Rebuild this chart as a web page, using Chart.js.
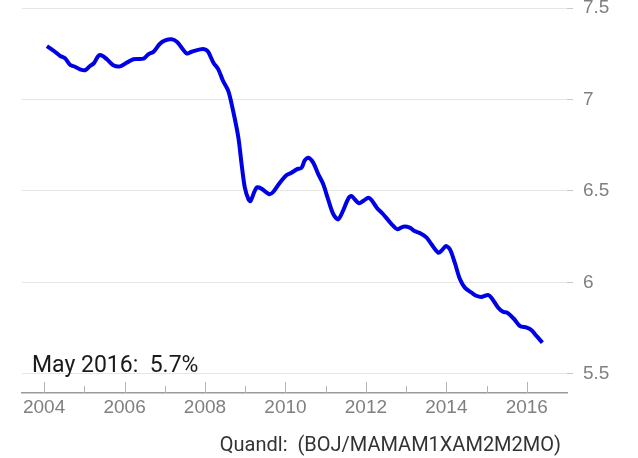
<!DOCTYPE html>
<html>
<head>
<meta charset="utf-8">
<title>May 2016: 5.7%</title>
<script src="https://cdn.jsdelivr.net/npm/chart.js@4/dist/chart.umd.min.js"></script>
<style>
    html, body { margin: 0; padding: 0; background: #ffffff; }
    #wrap { width: 638px; height: 458px; }
</style>
</head>
<body>
<div id="wrap"><canvas id="chartSerie" width="638" height="458"></canvas></div>
<script>
// Datos (anio decimal, valor en %)
const anios = [
    2004.07, 2004.27, 2004.40, 2004.52, 2004.65, 2004.77, 2004.89, 2005.02, 2005.14, 2005.24,
    2005.35, 2005.43, 2005.56, 2005.72, 2005.89, 2006.05, 2006.22, 2006.47, 2006.59, 2006.72,
    2006.88, 2007.01, 2007.17, 2007.30, 2007.42, 2007.55, 2007.67, 2007.88, 2008.00, 2008.08,
    2008.21, 2008.33, 2008.45, 2008.58, 2008.70, 2008.83, 2008.91, 2008.99, 2009.08, 2009.13,
    2009.28, 2009.40, 2009.60, 2009.70, 2009.86, 2010.03, 2010.15, 2010.28, 2010.40, 2010.48,
    2010.57, 2010.69, 2010.81, 2010.94, 2011.06, 2011.19, 2011.31, 2011.43, 2011.56, 2011.64,
    2011.72, 2011.83, 2011.93, 2012.06, 2012.14, 2012.27, 2012.43, 2012.55, 2012.68, 2012.78,
    2012.93, 2013.09, 2013.21, 2013.34, 2013.51, 2013.63, 2013.80, 2013.89, 2013.99, 2014.09,
    2014.21, 2014.34, 2014.46, 2014.63, 2014.76, 2014.88, 2015.04, 2015.12, 2015.29, 2015.41,
    2015.51, 2015.69, 2015.83, 2016.00, 2016.12, 2016.24, 2016.39,
];
const valores = [
    7.292, 7.261, 7.238, 7.225, 7.189, 7.179, 7.165, 7.160, 7.183, 7.199,
    7.238, 7.241, 7.220, 7.187, 7.181, 7.201, 7.220, 7.223, 7.247, 7.261,
    7.305, 7.323, 7.329, 7.316, 7.283, 7.251, 7.261, 7.274, 7.274, 7.260,
    7.201, 7.165, 7.101, 7.046, 6.937, 6.791, 6.646, 6.518, 6.455, 6.445,
    6.518, 6.513, 6.482, 6.496, 6.545, 6.587, 6.600, 6.618, 6.627, 6.668,
    6.682, 6.655, 6.595, 6.537, 6.455, 6.373, 6.345, 6.391, 6.458, 6.473,
    6.455, 6.433, 6.445, 6.463, 6.451, 6.409, 6.373, 6.342, 6.309, 6.291,
    6.305, 6.300, 6.281, 6.270, 6.245, 6.209, 6.163, 6.176, 6.199, 6.181,
    6.108, 6.017, 5.972, 5.944, 5.926, 5.921, 5.932, 5.917, 5.862, 5.840,
    5.835, 5.799, 5.762, 5.753, 5.739, 5.708, 5.671,
];

// Marcas de los ejes
const ticksX = [2004, 2006, 2008, 2010, 2012, 2014, 2016];
const ticksXMenores = [2005, 2007, 2009, 2011, 2013, 2015];
const ticksY = [5.5, 6, 6.5, 7, 7.5];

// Textos
const textoUltimo = 'May 2016:  5.7%';
const textoFuente = 'Quandl:  (BOJ/MAMAM1XAM2M2MO)';

const Grafico = {
    chart: null,

    /**
     * Plugin: marcas del eje X hacia dentro y textos de anotacion
     */
    pluginExtras: {
        id: 'extras',
        afterDraw: function(chart) {
            const ctx = chart.ctx;
            const x = chart.scales.x;
            const y = chart.scales.y;
            const base = chart.chartArea.bottom;

            ctx.save();
            ctx.strokeStyle = '#b3b3b3';
            ctx.lineWidth = 1;
            ticksX.forEach(v => {
                const px = Math.round(x.getPixelForValue(v)) + 0.5;
                ctx.beginPath();
                ctx.moveTo(px, base - 11);
                ctx.lineTo(px, base);
                ctx.stroke();
            });
            ticksXMenores.forEach(v => {
                const px = Math.round(x.getPixelForValue(v)) + 0.5;
                ctx.beginPath();
                ctx.moveTo(px, base - 7);
                ctx.lineTo(px, base);
                ctx.stroke();
            });

            // Ultimo valor
            ctx.fillStyle = '#1a1a1a';
            ctx.font = '23px Roboto';
            ctx.textAlign = 'left';
            ctx.textBaseline = 'alphabetic';
            ctx.fillText(textoUltimo, chart.chartArea.left + 10, y.getPixelForValue(5.5) - 2);

            // Fuente
            ctx.fillStyle = '#333333';
            ctx.font = '20px Roboto';
            ctx.textAlign = 'right';
            ctx.fillText(textoFuente, chart.chartArea.right - 6, chart.height - 7);
            ctx.restore();
        },
    },

    init: function() {
        const canvas = document.getElementById('chartSerie');
        const puntos = anios.map((a, i) => ({ x: a, y: valores[i] }));

        this.chart = new Chart(canvas, {
            type: 'line',
            data: {
                datasets: [{
                    data: puntos,
                    borderColor: '#0000e6',
                    borderWidth: 4,
                    pointRadius: 0,
                    tension: 0.3,
                    fill: false,
                }],
            },
            options: {
                responsive: false,
                animation: false,
                layout: {
                    padding: { left: 22, right: 0, top: 6, bottom: 39 },
                },
                plugins: {
                    legend: { display: false },
                    tooltip: { enabled: false },
                },
                scales: {
                    x: {
                        type: 'linear',
                        min: 2003.45,
                        max: 2017,
                        afterBuildTicks: s => { s.ticks = ticksX.map(v => ({ value: v })); },
                        afterFit: s => {
                            s.height = 26;
                            s.paddingLeft = 0;
                            s.paddingRight = 0;
                        },
                        grid: { display: true, drawOnChartArea: false, drawTicks: false },
                        border: { display: true, color: '#9a9a9a', width: 1.5 },
                        ticks: {
                            color: '#808080',
                            font: { family: 'Liberation Sans', size: 19 },
                            padding: 3,
                            maxRotation: 0,
                            callback: v => String(v),
                        },
                    },
                    y: {
                        position: 'right',
                        min: 5.396,
                        max: 7.511,
                        afterBuildTicks: s => { s.ticks = ticksY.map(v => ({ value: v })); },
                        afterFit: s => {
                            s.width = 71;
                            s.paddingTop = 0;
                            s.paddingBottom = 0;
                        },
                        grid: { color: '#e6e6e6', tickColor: '#c8c8c8', tickLength: 6, lineWidth: 1 },
                        border: { display: false },
                        ticks: {
                            color: '#808080',
                            font: { family: 'Liberation Sans', size: 19 },
                            padding: 10,
                            callback: v => String(v),
                        },
                    },
                },
            },
            plugins: [this.pluginExtras],
        });
    },
};

document.addEventListener('DOMContentLoaded', () => {
    Grafico.init();
});
</script>
</body>
</html>
